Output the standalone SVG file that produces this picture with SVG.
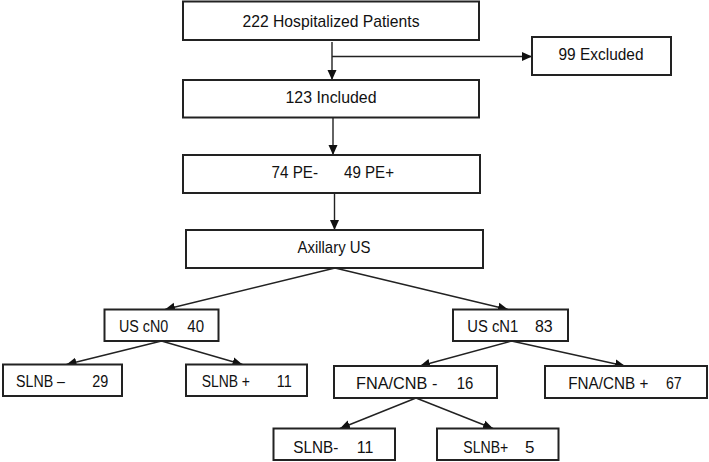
<svg xmlns="http://www.w3.org/2000/svg" width="709" height="462" viewBox="0 0 709 462">
<style>
.box{fill:#fff;stroke:#222;stroke-width:2}
.t{font-family:"Liberation Sans",Arial,sans-serif;font-size:17px;fill:#111}
.s{font-size:16px}
.c{text-anchor:middle}
.ln{stroke:#222;stroke-width:1.4;fill:none;marker-end:url(#ah)}
</style>
<defs>
<marker id="ah" markerUnits="userSpaceOnUse" markerWidth="10" markerHeight="10" viewBox="0 0 10 10" refX="10" refY="5" orient="auto">
<path d="M0,0.5 L10,5 L0,9.5 z" fill="#111"/>
</marker>
</defs>
<rect width="709" height="462" fill="#fff"/>
<g id="connectors">
<line class="ln" x1="332" y1="42" x2="332" y2="80"/>
<line class="ln" x1="332" y1="56.5" x2="532" y2="56.5"/>
<line class="ln" x1="333" y1="117" x2="333" y2="155"/>
<line class="ln" x1="334.5" y1="193" x2="334.5" y2="230"/>
<line class="ln" x1="335" y1="268" x2="165" y2="309.5"/>
<line class="ln" x1="335" y1="268" x2="508" y2="309.5"/>
<line class="ln" x1="161.5" y1="341" x2="66.5" y2="364.5"/>
<line class="ln" x1="161.5" y1="341" x2="242.5" y2="364.5"/>
<line class="ln" x1="511.5" y1="341" x2="420" y2="366"/>
<line class="ln" x1="511.5" y1="341" x2="625" y2="366"/>
<line class="ln" x1="416" y1="398" x2="340" y2="428.5"/>
<line class="ln" x1="416" y1="398" x2="493" y2="428.5"/>
</g>
<g id="n-hospitalized">
<rect class="box" x="183" y="1.5" width="296" height="38.5"/>
<text class="t" x="242.5" y="26.5" textLength="177" lengthAdjust="spacingAndGlyphs">222 Hospitalized Patients</text>
</g>
<g id="n-excluded">
<rect class="box" x="532" y="37" width="139" height="38"/>
<text class="t" x="558.5" y="60" textLength="85" lengthAdjust="spacingAndGlyphs">99 Excluded</text>
</g>
<g id="n-included">
<rect class="box" x="183" y="80" width="296" height="37.5"/>
<text class="t" x="285.5" y="102.5" textLength="91" lengthAdjust="spacingAndGlyphs">123 Included</text>
</g>
<g id="n-pe">
<rect class="box" x="183" y="155" width="297" height="38"/>
<text class="t" x="271.5" y="177.5" textLength="46.5" lengthAdjust="spacingAndGlyphs">74 PE-</text>
<text class="t" x="344" y="177.5" textLength="50" lengthAdjust="spacingAndGlyphs">49 PE+</text>
</g>
<g id="n-axillary">
<rect class="box" x="186" y="230" width="297" height="38"/>
<text class="t" x="297.5" y="253" textLength="73" lengthAdjust="spacingAndGlyphs">Axillary US</text>
</g>
<g id="n-cn0">
<rect class="box" x="104.5" y="309.5" width="114" height="31.5"/>
<text class="t s" x="119" y="331.5" textLength="49.3" lengthAdjust="spacingAndGlyphs">US cN0</text>
<text class="t s" x="187.3" y="331.5" textLength="16.7" lengthAdjust="spacingAndGlyphs">40</text>
</g>
<g id="n-cn1">
<rect class="box" x="453" y="309.5" width="115" height="31.5"/>
<text class="t s" x="467.3" y="331.5" textLength="51" lengthAdjust="spacingAndGlyphs">US cN1</text>
<text class="t s" x="535" y="331.5" textLength="17.7" lengthAdjust="spacingAndGlyphs">83</text>
</g>
<g id="n-slnb-neg">
<rect class="box" x="3" y="364.5" width="119" height="31.5"/>
<text class="t s" x="16" y="387.3" textLength="49" lengthAdjust="spacingAndGlyphs">SLNB –</text>
<text class="t s" x="92.3" y="387.3" textLength="16" lengthAdjust="spacingAndGlyphs">29</text>
</g>
<g id="n-slnb-pos">
<rect class="box" x="186" y="364.5" width="121" height="31.5"/>
<text class="t s" x="201.7" y="387.3" textLength="48.3" lengthAdjust="spacingAndGlyphs">SLNB +</text>
<text class="t s" x="276.7" y="387.3" textLength="15" lengthAdjust="spacingAndGlyphs">11</text>
</g>
<g id="n-fna-neg">
<rect class="box" x="334" y="366" width="163" height="32"/>
<text class="t" x="356" y="389.3" textLength="81.3" lengthAdjust="spacingAndGlyphs">FNA/CNB -</text>
<text class="t" x="456.7" y="389.3" textLength="16.6" lengthAdjust="spacingAndGlyphs">16</text>
</g>
<g id="n-fna-pos">
<rect class="box" x="545" y="366" width="162" height="32"/>
<text class="t" x="568.3" y="389.3" textLength="80" lengthAdjust="spacingAndGlyphs">FNA/CNB +</text>
<text class="t" x="666" y="389.3" textLength="15.7" lengthAdjust="spacingAndGlyphs">67</text>
</g>
<g id="n-slnb2-neg">
<rect class="box" x="273.5" y="428.5" width="121.5" height="31.5"/>
<text class="t" x="293.3" y="452.7" textLength="45" lengthAdjust="spacingAndGlyphs">SLNB-</text>
<text class="t" x="356.7" y="452.7" textLength="16.6" lengthAdjust="spacingAndGlyphs">11</text>
</g>
<g id="n-slnb2-pos">
<rect class="box" x="437" y="428.5" width="121.5" height="31.5"/>
<text class="t" x="463.3" y="452.7" textLength="45" lengthAdjust="spacingAndGlyphs">SLNB+</text>
<text class="t" x="525" y="452.7">5</text>
</g>
</svg>
